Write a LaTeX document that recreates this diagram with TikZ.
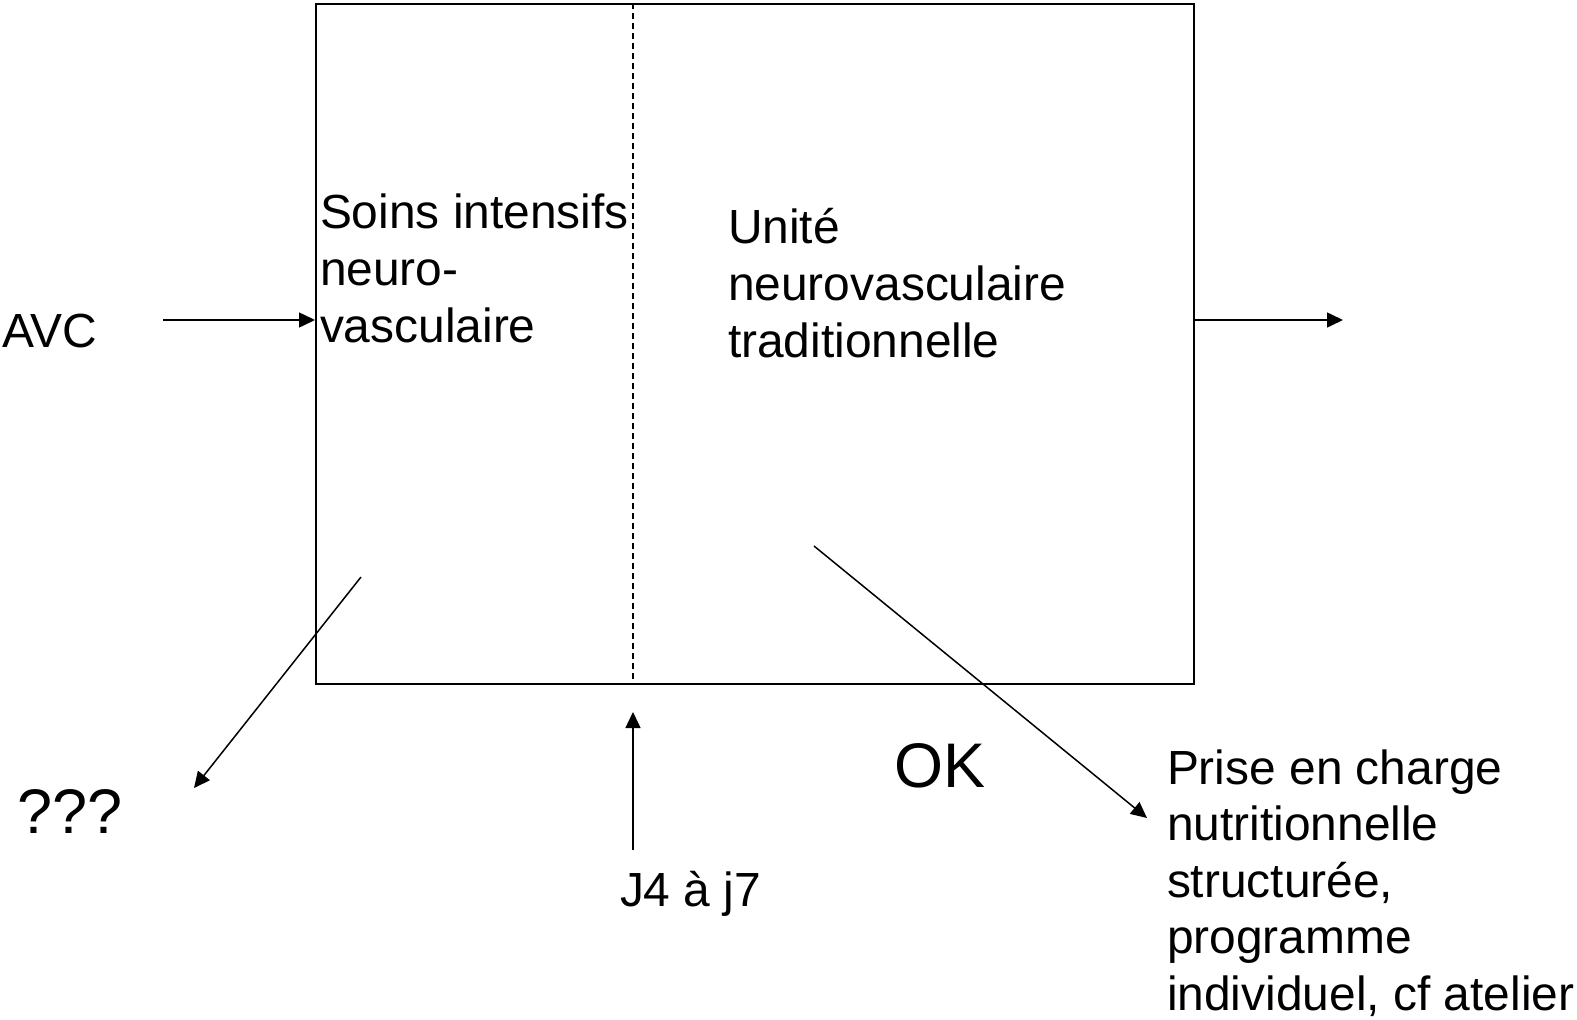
\documentclass[tikz,border=0pt]{standalone}
\usepackage{fontspec}
\setmainfont{Liberation Sans}
\usetikzlibrary{arrows.meta}
\tikzset{
  lbl/.style={inner sep=0pt, outer sep=0pt, font=\fontsize{47.9}{56.8}\selectfont, align=left},
  biglbl/.style={inner sep=0pt, outer sep=0pt, font=\fontsize{63}{72}\selectfont},
  conn/.style={line width=1.5pt, -{Triangle[length=16pt,width=15pt]}},
  frame/.style={line width=2pt},
  divider/.style={line width=1.4pt, dash pattern=on 6pt off 4pt}
}
\begin{document}
\begin{tikzpicture}[x=1pt,y=-1pt]
\useasboundingbox (0,0) rectangle (1577,1020);
% main box
\node[frame, draw, minimum width=878pt, minimum height=680pt, anchor=north west, inner sep=0pt] (box) at (315,3) {};
\coordinate (dtop) at (633,3);
\coordinate (dbot) at (633,683);
\draw[divider] (dtop) -- (dbot);

% texts
\node[lbl, anchor=base west] (avc) at (2,347) {AVC};
\node[lbl, anchor=north west] (sin) at (320,189.2) {\strut Soins intensifs\\neuro-\\vasculaire};
\node[lbl, anchor=north west] (unv) at (728,204.2) {\strut Unité\\neurovasculaire\\traditionnelle};
\node[biglbl, anchor=base west] (qqq) at (17,833) {???};
\node[biglbl, anchor=base west] (ok) at (894,787) {OK};
\node[lbl, anchor=base west] (j47) at (620,906) {J4 à j7};
\node[lbl, anchor=north west, font=\fontsize{47.9}{56.5}\selectfont] (prise) at (1167,744.45) {\strut Prise en charge\\nutritionnelle\\structurée,\\programme\\individuel, cf atelier};

% connectors
\coordinate (avcend) at (163,320);
\coordinate (inleft) at (315,320);
\draw[conn] (avcend) -- (inleft);
\coordinate (outright) at (1193,320);
\coordinate (outend) at (1343,320);
\draw[conn] (outright) -- (outend);
\coordinate (ls) at (361,577);
\coordinate (le) at (194,788);
\draw[conn] (ls) -- (le);
\coordinate (rs) at (814,546);
\coordinate (re) at (1147,818);
\draw[conn] (rs) -- (re);
\coordinate (us) at (633,850);
\coordinate (ue) at (633,712);
\draw[conn] (us) -- (ue);
\end{tikzpicture}
\end{document}
